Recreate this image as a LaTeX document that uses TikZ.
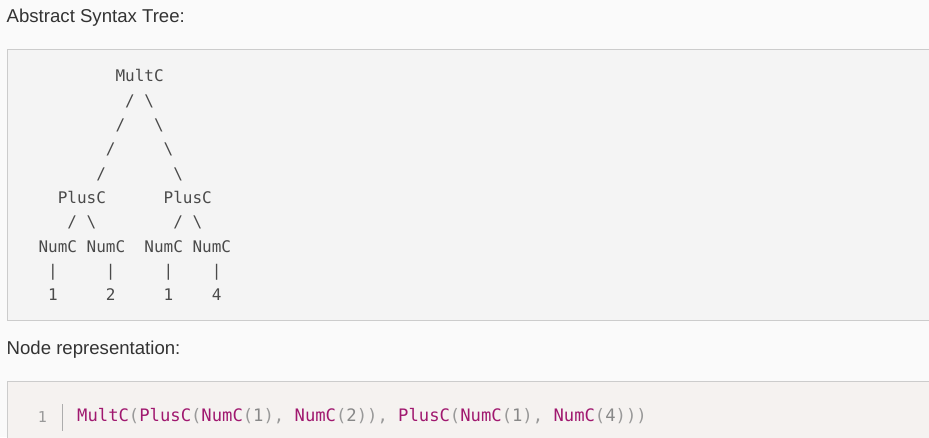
\documentclass[tikz,border=0pt]{standalone}
\usepackage{fontspec}
\setmainfont{Liberation Sans}
\newfontfamily\treemono{DejaVu Sans Mono}
\newfontfamily\codemono{DejaVu Sans Mono}
\definecolor{pagebg}{HTML}{FAFAFA}
\definecolor{prebg}{HTML}{F4F4F4}
\definecolor{codebg}{HTML}{F5F2F0}
\definecolor{boxline}{HTML}{CCCCCC}
\definecolor{headtext}{HTML}{333333}
\definecolor{treetext}{HTML}{4A4A4A}
\definecolor{fn}{HTML}{A0186F}
\definecolor{pu}{HTML}{999999}
\definecolor{num}{HTML}{888888}
\definecolor{lineno}{HTML}{999999}
\tikzset{
  heading/.style={anchor=base west, inner sep=0pt, text=headtext, font=\fontsize{18.6}{22}\selectfont},
  treetok/.style={anchor=base west, inner sep=0pt, text=treetext, font=\treemono\fontsize{16}{19}\selectfont},
  codetok/.style={anchor=base west, inner sep=0pt, font=\codemono\fontsize{17.2}{20}\selectfont},
  boxedge/.style={draw=boxline, line width=1pt},
}
\newcommand{\cw}{9.63}
\newcommand{\cx}{38.3}
\newcommand{\ry}{24.33}
\newcommand{\rz}{81.7}
\begin{document}
\begin{tikzpicture}[x=1pt,y=-1pt]
\useasboundingbox (0,0) rectangle (929,437);
\fill[pagebg] (0,0) rectangle (929,437);
% headings
\node[heading] (h1) at (6.5,22) {Abstract Syntax Tree:};
\node[heading] (h2) at (6.5,354) {Node representation:};
% pre box
\fill[prebg] (7.5,49.5) rectangle (940,320);
\draw[boxedge] (940,49.5) -- (7.5,49.5) -- (7.5,320) -- (940,320);
% code box
\fill[codebg] (7.5,381.5) rectangle (940,445);
\draw[boxedge] (940,381.5) -- (7.5,381.5) -- (7.5,445);
% tree tokens: row r, column c
\foreach \r/\c/\t/\n in {
  0/8/MultC/m,
  1/9/{/}/a1, 1/11/{\textbackslash}/b1,
  2/8/{/}/a2, 2/12/{\textbackslash}/b2,
  3/7/{/}/a3, 3/13/{\textbackslash}/b3,
  4/6/{/}/a4, 4/14/{\textbackslash}/b4,
  5/2/PlusC/p1, 5/13/PlusC/p2,
  6/3/{/}/c1, 6/5/{\textbackslash}/c2, 6/14/{/}/c3, 6/16/{\textbackslash}/c4,
  7/0/NumC/n1, 7/5/NumC/n2, 7/11/NumC/n3, 7/16/NumC/n4,
  8/1/{|}/v1, 8/7/{|}/v2, 8/13/{|}/v3, 8/18/{|}/v4,
  9/1/1/d1, 9/7/2/d2, 9/13/1/d3, 9/18/4/d4}
  \node[treetok] (t\n) at ({\cx+\cw*\c},{\rz+\ry*\r}) {\t};
% code line
\node[anchor=base, inner sep=0pt, text=lineno, font=\codemono\fontsize{15}{18}\selectfont] (ln) at (42.5,422) {1};
\coordinate (bartop) at (62.3,404.3);
\coordinate (barbot) at (62.3,431);
\draw[draw=lineno!80, line width=1pt] (bartop) -- (barbot);
\node[codetok] (code) at (77,421) {%
\color{fn}MultC\color{pu}(\color{fn}PlusC\color{pu}(\color{fn}NumC\color{pu}(\color{num}1\color{pu}),\ %
\color{fn}NumC\color{pu}(\color{num}2\color{pu})),\ %
\color{fn}PlusC\color{pu}(\color{fn}NumC\color{pu}(\color{num}1\color{pu}),\ %
\color{fn}NumC\color{pu}(\color{num}4\color{pu})))};
\end{tikzpicture}
\end{document}
